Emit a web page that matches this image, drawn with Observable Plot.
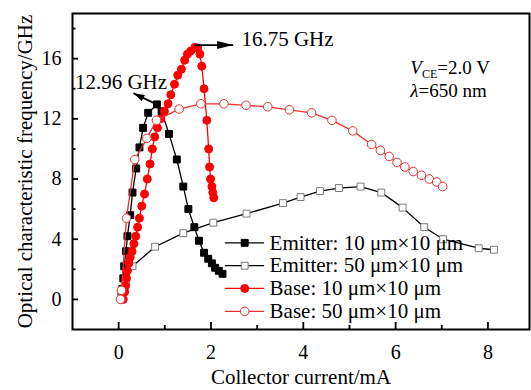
<!DOCTYPE html>
<html>
<head>
<meta charset="utf-8">
<script src="https://cdn.jsdelivr.net/npm/d3@7"></script>
<script src="https://cdn.jsdelivr.net/npm/@observablehq/plot@0.6"></script>
<style>
  body { margin: 0; background: #fff; }
  #chart svg { display: block; }
</style>
</head>
<body>
<div id="chart"></div>
<script>
// Optical characteristic frequency vs collector current (V_CE = 2.0 V, λ = 650 nm)
const emitter10Current = [0.06, 0.08, 0.10, 0.12, 0.16, 0.19, 0.25, 0.30, 0.38, 0.45, 0.53, 0.64, 0.83,
  0.93, 1.09, 1.26, 1.40, 1.51, 1.64, 1.74, 1.85, 1.94, 2.02, 2.09, 2.17, 2.25];
const emitter10Freq = [0.2, 0.7, 1.4, 2.2, 3.2, 4.2, 5.6, 7.1, 8.7, 10.1, 11.4, 12.4, 12.96,
  12.5, 11.0, 9.3, 7.5, 6.0, 4.8, 3.9, 3.1, 2.7, 2.4, 2.1, 1.9, 1.7];

const emitter50Current = [0.05, 0.16, 0.30, 0.79, 1.40, 2.05, 2.77, 3.56, 3.94, 4.36, 4.77, 5.24,
  5.69, 6.15, 6.62, 7.03, 7.80, 8.13];
const emitter50Freq = [0.1, 1.2, 2.2, 3.5, 4.4, 5.1, 5.7, 6.4, 6.8, 7.2, 7.4, 7.5,
  7.1, 6.1, 4.8, 4.0, 3.4, 3.3];

const base10Current = [0.10, 0.13, 0.15, 0.17, 0.19, 0.22, 0.25, 0.29, 0.33, 0.37, 0.41, 0.45, 0.50,
  0.56, 0.62, 0.68, 0.73, 0.78, 0.84, 0.91, 0.99, 1.07, 1.13, 1.21, 1.28, 1.36, 1.43, 1.49, 1.56,
  1.65, 1.71, 1.76, 1.80, 1.85, 1.91, 1.95, 1.97, 1.99, 2.02, 2.04, 2.06];
const base10Freq = [0.0, 0.5, 0.9, 1.4, 1.9, 2.4, 2.8, 3.2, 3.7, 4.2, 4.8, 5.4, 6.2,
  7.0, 8.0, 9.0, 10.0, 10.8, 11.4, 12.0, 12.5, 13.0, 13.6, 14.3, 14.9, 15.3, 15.9, 16.3, 16.5,
  16.75, 16.7, 16.3, 15.5, 14.0, 11.9, 10.0, 8.8, 8.0, 7.5, 7.1, 6.75];

const base50Current = [0.04, 0.06, 0.17, 0.35, 0.61, 0.82, 1.31, 1.78, 2.28, 2.76, 3.23, 3.70, 4.18,
  4.62, 5.07, 5.48, 5.67, 5.86, 6.03, 6.20, 6.38, 6.56, 6.73, 6.89, 7.02];
const base50Freq = [0.0, 0.6, 5.4, 9.3, 10.7, 11.9, 12.65, 13.0, 13.0, 12.9, 12.8, 12.6, 12.4,
  11.9, 11.2, 10.3, 9.9, 9.5, 9.1, 8.8, 8.5, 8.25, 8.0, 7.8, 7.5];

const seriesLabels = ["Emitter: 10 μm×10 μm", "Emitter: 50 μm×10 μm", "Base: 10 μm×10 μm", "Base: 50 μm×10 μm"];
const peakLabels = ["12.96 GHz", "16.75 GHz"];
const xMajorTicks = [0, 2, 4, 6, 8];
const xMinorTicks = [1, 3, 5, 7];
const yMajorTicks = [0, 4, 8, 12, 16];
const yMinorTicks = [2, 6, 10, 14, 18];

const serif = "Liberation Serif, Times New Roman, serif";
const red = "#ff0000";

const W = 531, H = 390;
const M = {top: 13, right: 2, bottom: 61, left: 72};
const innerW = W - M.left - M.right, innerH = H - M.top - M.bottom;

const series = [
  {I: emitter10Current, f: emitter10Freq, line: "#000", symbol: "square", fill: "#000", stroke: "#000", r: 3.9},
  {I: emitter50Current, f: emitter50Freq, line: "#000", symbol: "square", fill: "#fff", stroke: "#7a7a7a", r: 3.9},
  {I: base10Current, f: base10Freq, line: red, symbol: "circle", fill: red, stroke: red, r: 4},
  {I: base50Current, f: base50Freq, line: "#e8302f", symbol: "circle", fill: "#fff", stroke: "#e8302f", r: 4.3}
].map((s, k) => ({...s, label: seriesLabels[k], rows: s.I.map((I, i) => ({I, f: s.f[i]}))}));

// Filled arrowhead pointing "up" with its tip at the origin
const arrowHead = (len, half) => ({
  draw(ctx) { ctx.moveTo(0, 0); ctx.lineTo(-half, len); ctx.lineTo(half, len); ctx.closePath(); }
});

// Peak annotations (arrow from the peak to its tip)
const e10Peak = {I: emitter10Current[12], f: emitter10Freq[12]};
const b10Peak = {I: base10Current[29], f: base10Freq[29]};
const arrows = [
  {x1: e10Peak.I - 0.04, y1: e10Peak.f + 0.05, x2: 0.32, y2: 13.7, rotate: -64, head: arrowHead(11, 3.5)},
  {x1: b10Peak.I, y1: b10Peak.f + 0.15, x2: 2.48, y2: b10Peak.f + 0.15, rotate: 90, head: arrowHead(16, 4)}
];

// Legend layout (in axis units)
const legend = {x1: 2.30, x2: 3.15, xm: 2.73, xt: 3.27, ys: [3.76, 2.24, 0.73, -0.79]};

const txt = {fontSize: 20, fontFamily: serif, fill: "#000", lineAnchor: "middle"};

const marks = [
  Plot.frame({stroke: "#000", strokeWidth: 2}),
  // inward ticks on the bottom and left axes
  Plot.tickX(xMajorTicks, {x: d => d, insetTop: innerH - 7, stroke: "#000", strokeWidth: 1.8}),
  Plot.tickX(xMinorTicks, {x: d => d, insetTop: innerH - 4, stroke: "#000", strokeWidth: 1.8}),
  Plot.tickY(yMajorTicks, {y: d => d, insetRight: innerW - 6, stroke: "#000", strokeWidth: 1.8}),
  Plot.tickY(yMinorTicks, {y: d => d, insetRight: innerW - 3.5, stroke: "#000", strokeWidth: 1.8}),
  Plot.text(xMajorTicks, {x: d => d, frameAnchor: "bottom", dy: 23, textAnchor: "middle", ...txt}),
  Plot.text(yMajorTicks, {y: d => d, frameAnchor: "left", dx: -11, textAnchor: "end", ...txt}),
  Plot.text(["Collector current/mA"], {frameAnchor: "bottom", dy: 48, textAnchor: "middle", ...txt, fontSize: 21}),
  Plot.text(["Optical characteristic frequency/GHz"], {frameAnchor: "left", dx: -47, rotate: -90, textAnchor: "middle", ...txt, fontSize: 21})
];

for (const s of series) {
  marks.push(Plot.line(s.rows, {x: "I", y: "f", stroke: s.line, strokeWidth: 1.3}));
  marks.push(Plot.dot(s.rows, {x: "I", y: "f", symbol: s.symbol, r: s.r, fill: s.fill, stroke: s.stroke, strokeWidth: 1}));
}

// Legend
series.forEach((s, k) => {
  const y = legend.ys[k];
  marks.push(Plot.link([s], {x1: legend.x1, x2: legend.x2, y1: y, y2: y, stroke: s.line, strokeWidth: 1.3}));
  marks.push(Plot.dot([s], {x: legend.xm, y: y, symbol: s.symbol, r: s.r, fill: s.fill, stroke: s.stroke, strokeWidth: 1}));
  marks.push(Plot.text([s], {x: legend.xt, y: y, text: "label", textAnchor: "start", ...txt, fontSize: 21}));
});

// Peak arrows and labels
for (const a of arrows) {
  marks.push(Plot.link([a], {x1: "x1", y1: "y1", x2: "x2", y2: "y2", stroke: "#000", strokeWidth: 1.8}));
  marks.push(Plot.dot([a], {x: "x2", y: "y2", symbol: a.head, rotate: a.rotate, fill: "#000", stroke: "none"}));
}
marks.push(Plot.text([peakLabels[0]], {x: 0.05, y: 14.45, textAnchor: "middle", ...txt, fontSize: 21}));
marks.push(Plot.text([peakLabels[1]], {x: 2.66, y: 17.3, textAnchor: "start", ...txt, fontSize: 21}));

const plot = Plot.plot({
  width: W,
  height: H,
  marginTop: M.top,
  marginRight: M.right,
  marginBottom: M.bottom,
  marginLeft: M.left,
  style: {background: "#fff", color: "#000"},
  x: {domain: [-1, 8.9], axis: null},
  y: {domain: [-2, 19], axis: null},
  marks
});

// Bias / wavelength note with italic symbols and subscript
const svg = d3.select(plot);
const sx = plot.scale("x"), sy = plot.scale("y");
const noteX = sx.apply(6.33);
const note1 = svg.append("text").attr("x", noteX).attr("y", sy.apply(14.95))
  .attr("text-anchor", "start").attr("font-family", serif).attr("font-size", 19).attr("fill", "#000");
note1.append("tspan").attr("font-style", "italic").text("V");
note1.append("tspan").attr("font-size", 12).attr("dy", 4).text("CE");
note1.append("tspan").attr("dy", -4).text("=2.0 V");
const note2 = svg.append("text").attr("x", noteX).attr("y", sy.apply(13.45))
  .attr("text-anchor", "start").attr("font-family", serif).attr("font-size", 19).attr("fill", "#000");
note2.append("tspan").attr("font-style", "italic").text("λ");
note2.append("tspan").text("=650 nm");

document.getElementById("chart").append(plot);
</script>
</body>
</html>
